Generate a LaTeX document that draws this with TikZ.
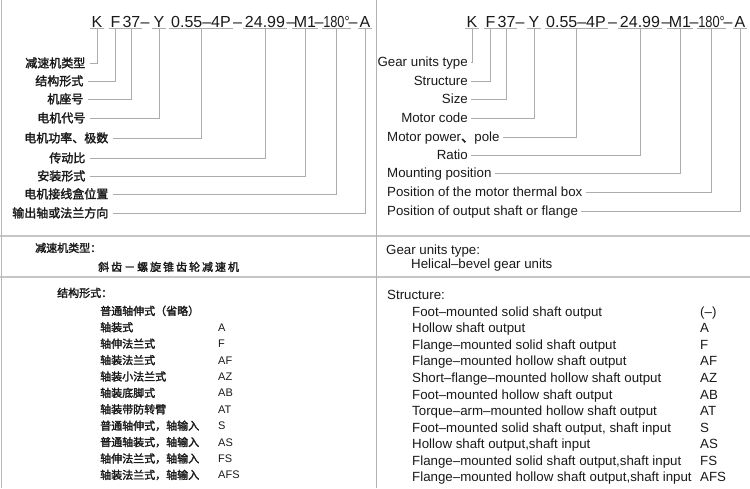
\documentclass[tikz,border=0pt]{standalone}
\usepackage{fontspec}
\setmainfont{Liberation Sans}
\newfontfamily\narrowsans{Liberation Sans}[FakeStretch=0.8]
\newfontfamily\cjk{Noto Sans CJK SC}[FakeBold=2]
\newfontfamily\cjkspaced{Noto Sans CJK SC}[FakeBold=2,LetterSpace=18]

\tikzset{
  code/.style={font=\fontsize{16}{16}\selectfont, anchor=base, inner sep=1.5pt, text depth=0pt},
  cnlabel/.style={font=\cjk\fontsize{12}{12}\selectfont, anchor=east, inner sep=4.5pt, text height=8.9pt, text depth=0pt},
  enlabel/.style={font=\fontsize{13.3}{13.3}\selectfont, inner sep=3pt, text height=9.5pt, text depth=0pt},
  entext/.style={font=\fontsize{13.3}{13.3}\selectfont, anchor=west, inner sep=0pt, text height=9.5pt, text depth=0pt},
  cntext/.style={font=\cjk\fontsize{11}{11}\selectfont, anchor=west, inner sep=0pt, text height=8.1pt, text depth=0pt},
  cncode/.style={font=\fontsize{11}{11}\selectfont, anchor=west, inner sep=0pt, text height=7.9pt, text depth=0pt},
  lead/.style={draw=gray!65, line width=0.8pt},
  rulegray/.style={draw=gray!45, line width=1.3pt},
}

\begin{document}
\begin{tikzpicture}[x=1pt,y=-1pt,text=black!90]
\useasboundingbox (0,0) rectangle (750,488);

% frame lines
\draw[rulegray] (0,236) -- (750,236);
\draw[rulegray] (0,277) -- (750,277);
\draw[draw=gray!55, line width=1pt] (1.5,0) -- (1.5,488);
\draw[draw=gray!60, line width=0.8pt] (376,0) -- (376,488);

% type code, left
\node[code] (lK) at (97,27) {K};
\node[code] (lF) at (115.5,27) {F};
\node[code] (l37) at (131.5,27) {37};
\node[code] (ld1) at (145,27) {–};
\node[code] (lY) at (159,27) {Y};
\node[code] (lPow) at (201,27) {0.55–4P};
\node[code] (ld2) at (237.5,27) {–};
\node[code] (lRat) at (265,27) {24.99};
\node[code] (ld3) at (291,27) {–};
\node[code] (lMnt) at (305,27) {M1};
\node[code] (ld4) at (319,27) {–};
\node[code] (lBox) at (336.5,27) {\narrowsans 180°};
\node[code] (ld5) at (353,27) {–};
\node[code] (lOut) at (365,27) {A};

% type code, right
\node[code] (rK) at (472,27) {K};
\node[code] (rF) at (490.5,27) {F};
\node[code] (r37) at (506.5,27) {37};
\node[code] (rd1) at (520,27) {–};
\node[code] (rY) at (534,27) {Y};
\node[code] (rPow) at (576,27) {0.55–4P};
\node[code] (rd2) at (612.5,27) {–};
\node[code] (rRat) at (640,27) {24.99};
\node[code] (rd3) at (666,27) {–};
\node[code] (rMnt) at (680,27) {M1};
\node[code] (rd4) at (694,27) {–};
\node[code] (rBox) at (711.5,27) {\narrowsans 180°};
\node[code] (rd5) at (728,27) {–};
\node[code] (rOut) at (740,27) {A};

\foreach \n in {lK,lF,l37,lY,lPow,lRat,lMnt,lBox,lOut,rK,rF,r37,rY,rPow,rRat,rMnt,rBox,rOut}
  \draw[lead] (\n.south west) -- (\n.south east);

% labels, left
\node[cnlabel] (lbType) at (90,63) {减速机类型};
\node[cnlabel] (lbStr) at (88,81) {结构形式};
\node[cnlabel] (lbSize) at (88,99) {机座号};
\node[cnlabel] (lbMot) at (90,118) {电机代号};
\node[cnlabel] (lbPow) at (113,138) {电机功率、极数};
\node[cnlabel] (lbRat) at (90,158) {传动比};
\node[cnlabel] (lbMnt) at (90,176) {安装形式};
\node[cnlabel] (lbBox) at (113,194) {电机接线盒位置};
\node[cnlabel] (lbOut) at (113,213) {输出轴或法兰方向};

\draw[lead] (lbType.east) -| (lK.south);
\draw[lead] (lbStr.east) -| (lF.south);
\draw[lead] (lbSize.east) -| (l37.south);
\draw[lead] (lbMot.east) -| (lY.south);
\draw[lead] (lbPow.east) -| (lPow.south);
\draw[lead] (lbRat.east) -| (lRat.south);
\draw[lead] (lbMnt.east) -| (lMnt.south);
\draw[lead] (lbBox.east) -| (lBox.south);
\draw[lead] (lbOut.east) -| (lOut.south);

% labels, right
\node[enlabel, anchor=east] (rbType) at (471,62) {Gear units type};
\node[enlabel, anchor=east] (rbStr) at (471,81) {Structure};
\node[enlabel, anchor=east] (rbSize) at (471,99) {Size};
\node[enlabel, anchor=east] (rbMot) at (471,118) {Motor code};
\node[enlabel, anchor=west] (rbPow) at (384,137) {Motor power{\cjk 、}pole};
\node[enlabel, anchor=east] (rbRat) at (471,155) {Ratio};
\node[enlabel, anchor=west] (rbMnt) at (384,173) {Mounting position};
\node[enlabel, anchor=west] (rbBox) at (384,192) {Position of the motor thermal box};
\node[enlabel, anchor=west] (rbOut) at (384,211) {Position of output shaft or flange};

\draw[lead] (rbType.east) -| (rK.south);
\draw[lead] (rbStr.east) -| (rF.south);
\draw[lead] (rbSize.east) -| (r37.south);
\draw[lead] (rbMot.east) -| (rY.south);
\draw[lead] (rbPow.east) -| (rPow.south);
\draw[lead] (rbRat.east) -| (rRat.south);
\draw[lead] (rbMnt.east) -| (rMnt.south);
\draw[lead] (rbBox.east) -| (rBox.south);
\draw[lead] (rbOut.east) -| (rOut.south);

% gear unit type
\node[cntext] (lTypeHd) at (35,248) {减速机类型：};
\node[cntext, font=\cjkspaced\fontsize{11}{11}\selectfont] (lTypeTx) at (98,267) {斜齿－螺旋锥齿轮减速机};
\node[entext] (rTypeHd) at (386,250) {Gear units type:};
\node[entext] (rTypeTx) at (411,264) {Helical–bevel gear units};

% structure, left
\node[cntext] (lStrHd) at (57,293) {结构形式：};
\node[cntext] (ls1) at (100,311) {普通轴伸式（省略）};
\node[cntext] (ls2) at (100,327.4) {轴装式};
\node[cncode] (lc2) at (218,327.4) {A};
\node[cntext] (ls3) at (100,343.8) {轴伸法兰式};
\node[cncode] (lc3) at (218,343.8) {F};
\node[cntext] (ls4) at (100,360.2) {轴装法兰式};
\node[cncode] (lc4) at (218,360.2) {AF};
\node[cntext] (ls5) at (100,376.6) {轴装小法兰式};
\node[cncode] (lc5) at (218,376.6) {AZ};
\node[cntext] (ls6) at (100,393) {轴装底脚式};
\node[cncode] (lc6) at (218,393) {AB};
\node[cntext] (ls7) at (100,409.4) {轴装带防转臂};
\node[cncode] (lc7) at (218,409.4) {AT};
\node[cntext] (ls8) at (100,425.8) {普通轴伸式，轴输入};
\node[cncode] (lc8) at (218,425.8) {S};
\node[cntext] (ls9) at (100,442.2) {普通轴装式，轴输入};
\node[cncode] (lc9) at (218,442.2) {AS};
\node[cntext] (ls10) at (100,458.6) {轴伸法兰式，轴输入};
\node[cncode] (lc10) at (218,458.6) {FS};
\node[cntext] (ls11) at (100,475) {轴装法兰式，轴输入};
\node[cncode] (lc11) at (218,475) {AFS};

% structure, right
\node[entext] (rStrHd) at (387,295) {Structure:};
\node[entext] (rs1) at (412,311.5) {Foot–mounted solid shaft output};
\node[entext] (rc1) at (700,311.5) {(–)};
\node[entext] (rs2) at (412,328) {Hollow shaft output};
\node[entext] (rc2) at (700,328) {A};
\node[entext] (rs3) at (412,344.6) {Flange–mounted solid shaft output};
\node[entext] (rc3) at (700,344.6) {F};
\node[entext] (rs4) at (412,361.2) {Flange–mounted hollow shaft output};
\node[entext] (rc4) at (700,361.2) {AF};
\node[entext] (rs5) at (412,377.7) {Short–flange–mounted hollow shaft output};
\node[entext] (rc5) at (700,377.7) {AZ};
\node[entext] (rs6) at (412,394.3) {Foot–mounted hollow shaft output};
\node[entext] (rc6) at (700,394.3) {AB};
\node[entext] (rs7) at (412,410.8) {Torque–arm–mounted hollow shaft output};
\node[entext] (rc7) at (700,410.8) {AT};
\node[entext] (rs8) at (412,427.4) {Foot–mounted solid shaft output, shaft input};
\node[entext] (rc8) at (700,427.4) {S};
\node[entext] (rs9) at (412,443.9) {Hollow shaft output,shaft input};
\node[entext] (rc9) at (700,443.9) {AS};
\node[entext] (rs10) at (412,460.5) {Flange–mounted solid shaft output,shaft input};
\node[entext] (rc10) at (700,460.5) {FS};
\node[entext] (rs11) at (412,477) {Flange–mounted hollow shaft output,shaft input};
\node[entext] (rc11) at (700,477) {AFS};
\end{tikzpicture}
\end{document}
